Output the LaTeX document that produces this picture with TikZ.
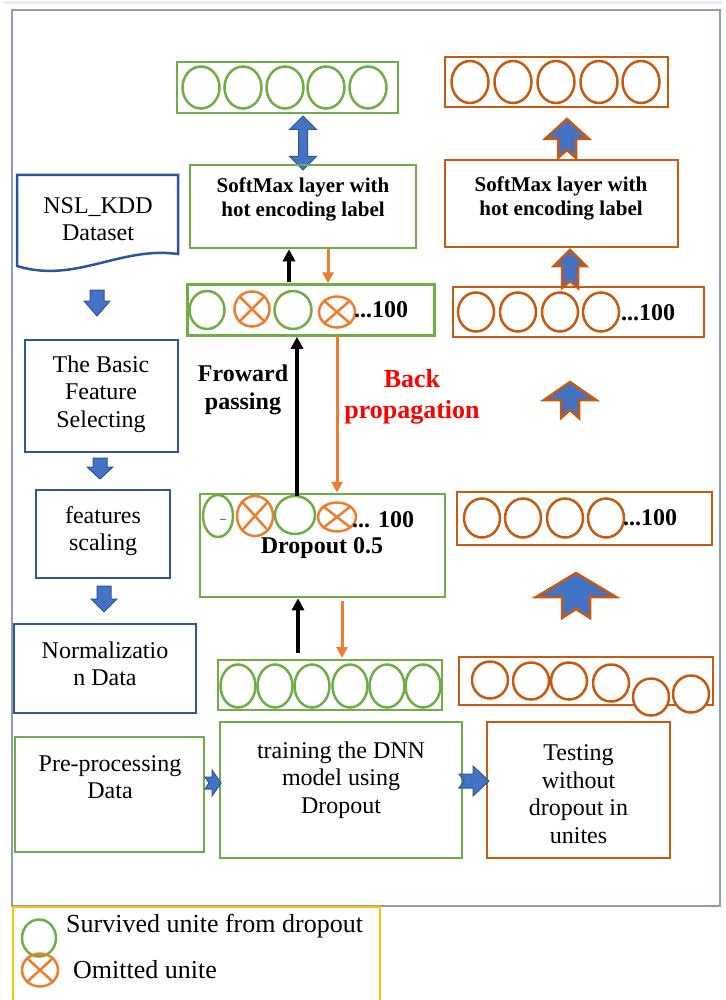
\documentclass[tikz,border=0pt]{standalone}
\usepackage{fontspec}
\setmainfont{Liberation Serif}
\usetikzlibrary{shapes.geometric,shapes.arrows,arrows.meta}
\definecolor{grn}{HTML}{70AD47}
\definecolor{orx}{HTML}{ED7D31}
\definecolor{dor}{HTML}{C55A11}
\definecolor{bfill}{HTML}{4472C4}
\definecolor{bdraw}{HTML}{2F5597}
\definecolor{frame}{HTML}{8E9CB8}
\definecolor{legy}{HTML}{FFC000}
\newcommand{\notchup}[7]{% cx, ytip, yhead, ybottom, halfhead, halfshaft, notch
  \filldraw[fill=bfill,draw=dor,line width=2.5pt,line join=miter]
    (#1,#2) -- ({#1+#5},#3) -- ({#1+#6},#3) -- ({#1+#6},#4) -- (#1,{#4-#7})
    -- ({#1-#6},#4) -- ({#1-#6},#3) -- ({#1-#5},#3) -- cycle;}
\newcommand{\blockdown}[6]{% cx, ytop, yhead, ytip, halfhead, halfshaft
  \filldraw[fill=bfill,draw=bdraw,line width=1pt]
    ({#1-#6},#2) -- ({#1+#6},#2) -- ({#1+#6},#3) -- ({#1+#5},#3) -- (#1,#4)
    -- ({#1-#5},#3) -- ({#1-#6},#3) -- cycle;}
\newcommand{\notchright}[7]{% cy, xtip, xhead, xtail, halfhead, halfshaft, notch
  \filldraw[fill=bfill,draw=bdraw,line width=1pt]
    (#2,#1) -- (#3,{#1-#5}) -- (#3,{#1-#6}) -- (#4,{#1-#6}) -- ({#4+#7},#1)
    -- (#4,{#1+#6}) -- (#3,{#1+#6}) -- (#3,{#1+#5}) -- cycle;}
\tikzset{
  gbox/.style={draw=grn,line width=2.5pt,inner sep=0pt,align=center},
  obox/.style={draw=dor,line width=2.5pt,inner sep=0pt,align=center},
  bbox/.style={draw=bdraw,line width=2.5pt,inner sep=0pt,align=center},
  body/.style={font=\fontsize{24}{27.5}\selectfont,align=center,inner sep=0pt},
  bold/.style={font=\bfseries\fontsize{21}{24}\selectfont,align=center,inner sep=0pt},
  bigbold/.style={font=\bfseries\fontsize{24}{28}\selectfont,align=center,inner sep=0pt},
  gc/.style={ellipse,draw=grn,line width=2.5pt,inner sep=0pt},
  xc/.style={ellipse,draw=orx,line width=2.5pt,inner sep=0pt},
  oc/.style={ellipse,draw=dor,line width=2.5pt,inner sep=0pt,fill=white},
  blk/.style={draw=black,line width=3.5pt,-{Triangle[length=12pt,width=12pt]}},
  ora/.style={draw=orx,line width=3pt,-{Triangle[length=11pt,width=11pt]}},
}
\newcommand{\xmark}[1]{\draw[orx,line width=2.5pt] (#1.north east) -- (#1.south west) (#1.north west) -- (#1.south east);}
\begin{document}
\begin{tikzpicture}[x=1pt,y=-1pt]
\useasboundingbox (0,0) rectangle (725,1000);
\fill[white] (0,0) rectangle (725,1000);
% outer frame
\draw[gray!15,line width=3pt] (3,3) -- (722,3);
\draw[frame,line width=2pt] (12,10) rectangle (720,906);
% legend box
\draw[legy,line width=2.5pt] (13,907) rectangle (380,1002);

% ---------- left column ----------
\draw[bdraw,line width=2.5pt] (17,175) -- (178,175) -- (178,254)
   .. controls (120,246) and (75,284) .. (17,266) -- cycle;
\node[body] (nsl) at (98,219) {NSL\_KDD\\Dataset};
\blockdown{97}{290}{301}{316}{13}{7}
\node[bbox,minimum width=153,minimum height=112] (basic) at (101.5,396) {};
\node[body] (basict) at (101,394) {The Basic\\Feature\\Selecting};
\blockdown{100}{458}{467}{479}{13}{7}
\node[bbox,minimum width=134,minimum height=88] (scal) at (103,534) {};
\node[body] (scalt) at (103,531) {features\\scaling};
\blockdown{104}{586}{599}{612}{13}{7}
\node[bbox,minimum width=182,minimum height=89] (norm) at (105,668.5) {};
\node[body] (normt) at (105,664) {Normalizatio\\n Data};

% ---------- bottom row ----------
\node[gbox,minimum width=189,minimum height=115] (pre) at (109.5,794.5) {};
\node[body] (pret) at (110,777) {Pre-processing\\Data};
\node[gbox,minimum width=242,minimum height=136] (train) at (341,790) {};
\node[body] (traint) at (341,780) {training the DNN\\model using\\Dropout};
\node[obox,minimum width=183,minimum height=136] (test) at (578.5,790) {};
\node[body] (testt) at (578.5,794) {Testing\\without\\dropout in\\unites};
\notchright{783}{221}{212}{205}{13}{6}{4}
\notchright{781}{489}{473}{459}{15}{7}{5}

% ---------- middle (training) column ----------
\node[gbox,minimum width=221,minimum height=51] (gout) at (287.5,87.5) {};
\foreach \i/\x in {1/201,2/243,3/285,4/326,5/368}
  \node[gc,minimum width=37,minimum height=42] (go\i) at (\x,87.5) {};
\node[double arrow,draw=bdraw,fill=bfill,line width=1pt,rotate=90,
      minimum height=54,minimum width=27,double arrow head extend=7pt,
      inner sep=3pt] (dbl) at (303,143) {};
\node[gbox,minimum width=226,minimum height=83] (gsoft) at (303,206.5) {};
\node[bold] (gsoftt) at (303,199) {SoftMax layer with\\hot encoding label};

\node[gbox,minimum width=247,minimum height=51] (gh) at (311,310) {};
\node[gc,minimum width=35,minimum height=38] (gh1) at (207,310) {};
\node[xc,minimum width=35,minimum height=35] (gh2) at (252,309) {};\xmark{gh2}
\node[gc,minimum width=37,minimum height=38] (gh3) at (293,310) {};
\node[xc,minimum width=36,minimum height=31] (gh4) at (337,312) {};\xmark{gh4}
\node[bigbold,anchor=west] (gh100) at (354,310) {...100};

\node[bigbold] (fwd) at (243,390) {Froward\\passing};
\node[font=\bfseries\fontsize{26}{31}\selectfont,text=red,align=center,inner sep=0pt]
  (bp) at (412,397) {Back\\propagation};

\node[gbox,minimum width=245,minimum height=103] (drop) at (322.5,545.5) {};
\node[gc,minimum width=30,minimum height=42] (d1) at (218,516) {};
\node[font=\fontsize{12}{12}\selectfont,inner sep=0pt] (dash) at (223,519) {\_};
\node[xc,minimum width=36,minimum height=40] (d2) at (255,516) {};\xmark{d2}
\node[gc,minimum width=40,minimum height=38] (d3) at (295,515) {};
\node[xc,minimum width=38,minimum height=29] (d4) at (337,517) {};\xmark{d4}
\node[bigbold,anchor=west] (d100) at (352,520) {... 100};
\node[bigbold] (dropt) at (322,548) {Dropout 0.5};

\node[gbox,minimum width=224,minimum height=50] (gin) at (330,685) {};
\foreach \i/\x in {1/238,2/275,3/312,4/350,5/387,6/423}
  \node[gc,minimum width=35,minimum height=43] (gi\i) at (\x,686) {};

% forward / backward arrows
\coordinate (a1) at (298,653);
\coordinate (a2) at (342,601);
\draw[blk] (a1) -- (drop.south -| a1);
\draw[ora] (a2) -- (342,658);
\draw[blk] (297,496) -- (gh.south -| 297,0);
\draw[ora] (337,336) -- (drop.north -| 337,0);
\draw[blk] (289,282) -- (gsoft.south -| 289,0);
\draw[ora] (328,249) -- (gh.north -| 328,0);

% ---------- right (testing) column ----------
\node[obox,minimum width=223,minimum height=50] (oout) at (556.5,82) {};
\foreach \i/\x in {1/470,2/513,3/556,4/599,5/641}
  \node[oc,minimum width=37,minimum height=42] (oo\i) at (\x,82) {};
\notchup{567}{119}{139}{158}{22}{9}{8}
\node[obox,minimum width=233,minimum height=87] (osoft) at (561.5,203.5) {};
\node[bold] (osoftt) at (561,198) {SoftMax layer with\\hot encoding label};
\notchup{570}{250}{266}{288}{16}{8}{7}
\node[obox,minimum width=251,minimum height=50] (oh1) at (578.5,312) {};
\foreach \i/\x in {1/476,2/518,3/560,4/601}
  \node[oc,minimum width=36,minimum height=39] (oh1\i) at (\x,312) {};
\node[bigbold,anchor=west] (oh1t) at (621,313) {...100};
\notchup{570}{382}{400}{418}{26}{9}{8}
\node[obox,minimum width=255,minimum height=53] (oh2) at (584.5,518.5) {};
\foreach \i/\x in {1/482,2/523,3/565,4/606}
  \node[oc,minimum width=36,minimum height=39] (oh2\i) at (\x,518) {};
\node[bigbold,anchor=west] (oh2t) at (623,518) {...100};
\notchup{576}{573}{597}{618}{40}{14}{9}
\node[obox,minimum width=254,minimum height=48] (oin) at (586,681) {};
\foreach \i/\x/\y in {1/490/680,2/531/681,3/569/681,4/611/683,5/651/697,6/691/694}
  \node[oc,minimum width=36,minimum height=37] (oi\i) at (\x,\y) {};

% ---------- legend ----------
\node[gc,minimum width=34,minimum height=37] (lg) at (39,938) {};
\node[font=\fontsize{26}{30}\selectfont,anchor=west,inner sep=0pt] (lgt) at (66,926) {Survived unite from dropout};
\node[xc,minimum width=36,minimum height=33] (lx) at (40,970) {};\xmark{lx}
\node[font=\fontsize{26}{30}\selectfont,anchor=west,inner sep=0pt] (lxt) at (73,970) {Omitted unite};
\end{tikzpicture}
\end{document}
